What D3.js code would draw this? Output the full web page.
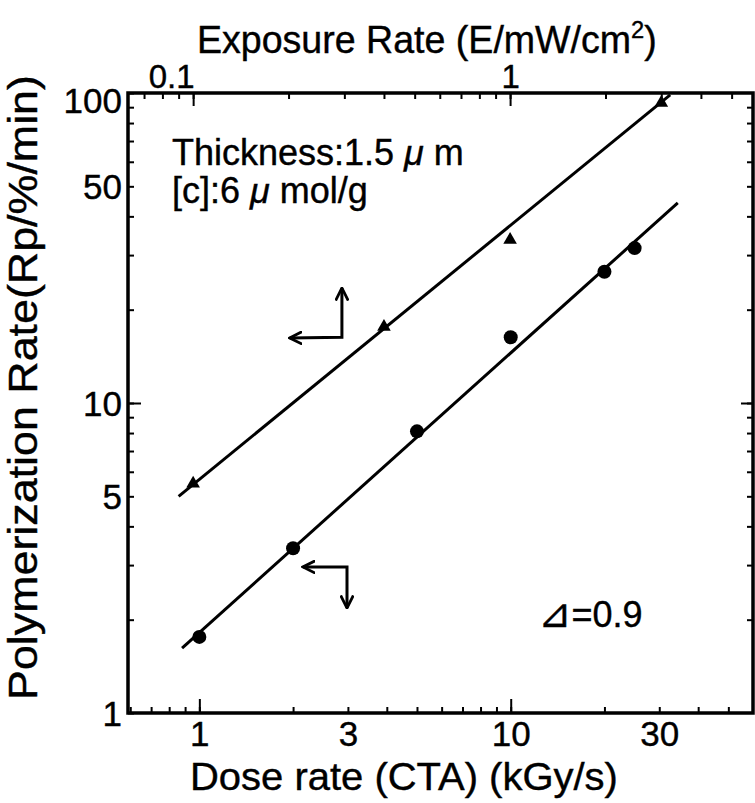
<!DOCTYPE html>
<html>
<head>
<meta charset="utf-8">
<script src="https://cdn.jsdelivr.net/npm/d3@7"></script>
<style>
  body { margin: 0; background: #fff; }
  svg { display: block; font-family: "Liberation Sans", Arial, Helvetica, sans-serif; }
</style>
</head>
<body>
<div id="chart"></div>
<script>
// circles: dose rate (kGy/s) vs polymerization rate (%/min)
const doseRate = [1, 2, 5, 10, 20, 25];
const doseRp = [1.76, 3.4, 8.1, 16.3, 26.5, 31.6];

// triangles: exposure rate (mW/cm2, top axis) vs polymerization rate
const exposureRate = [0.1, 0.4, 1, 3];
const exposureRp = [5.5, 17.6, 33.6, 93];

// fitted lines, start and end
const doseFitX = [0.88, 34.4];
const doseFitY = [1.62, 44.2];
const exposureFitX = [0.09, 3.2];
const exposureFitY = [5.0, 98.6];

const doseTicks = [1, 3, 10, 30];
const exposureTicks = [0.1, 1];
const rpTicks = [1, 5, 10, 50, 100];

const width = 755, height = 803;
const plot = { left: 128, right: 753, top: 93, bottom: 713 };

const svg = d3.select('#chart')
  .append('svg')
  .attr('width', width)
  .attr('height', height);

const x = d3.scaleLog().domain([0.59, 60]).range([plot.left, plot.right]);
const xTop = d3.scaleLog().domain([0.0623, 5.84]).range([plot.left, plot.right]);
const y = d3.scaleLog().domain([1, 100]).range([plot.bottom, plot.top]);

const inside = (s) => (d) => {
  const p = s(d);
  return p > s.range()[0] + 2 && p < s.range()[1] - 2;
};
const insideY = (d) => y(d) < plot.bottom - 2 && y(d) > plot.top + 2;

const fmt = d3.format('~g');

function styleAxis(g) {
  g.select('.domain').remove();
  g.attr('font-family', '"Liberation Sans", Arial, sans-serif')
    .attr('font-size', 35);
  g.selectAll('.tick line').attr('stroke', '#000').attr('stroke-width', 2);
  g.selectAll('.tick text').attr('fill', '#000')
    .attr('stroke', '#000').attr('stroke-width', 0.4);
}

// bottom axis
const bottomMinor = x.ticks().filter(inside(x));
svg.append('g')
  .attr('transform', `translate(0,${plot.bottom})`)
  .call(d3.axisBottom(x).tickValues(bottomMinor).tickSize(-6)
    .tickPadding(8)
    .tickFormat(d => doseTicks.includes(d) ? fmt(d) : ''))
  .call(styleAxis);
svg.append('g')
  .attr('transform', `translate(0,${plot.bottom})`)
  .call(d3.axisBottom(x).tickValues([1, 10]).tickSize(-14).tickFormat(''))
  .call(styleAxis);

// top axis (exposure rate)
const topMinor = xTop.ticks().filter(inside(xTop));
svg.append('g')
  .attr('transform', `translate(0,${plot.top})`)
  .call(d3.axisTop(xTop).tickValues(topMinor).tickSize(-6)
    .tickPadding(5)
    .tickFormat(d => exposureTicks.includes(d) ? fmt(d) : ''))
  .call(styleAxis)
  .call(g => g.selectAll('.tick text').attr('font-size', 33)
    .attr('dx', d => d === 0.1 ? -22 : 0));
svg.append('g')
  .attr('transform', `translate(0,${plot.top})`)
  .call(d3.axisTop(xTop).tickValues([0.1, 1]).tickSize(-13).tickFormat(''))
  .call(styleAxis);

// left axis
const yMinor = y.ticks().filter(insideY);
svg.append('g')
  .attr('transform', `translate(${plot.left},0)`)
  .call(d3.axisLeft(y).tickValues([1].concat(yMinor, [100])).tickSize(-6)
    .tickPadding(6)
    .tickFormat(d => rpTicks.includes(d) ? fmt(d) : ''))
  .call(styleAxis)
  .call(g => g.selectAll('.tick text')
    .attr('dy', d => d === 100 ? '0.55em' : '0.35em'));
svg.append('g')
  .attr('transform', `translate(${plot.left},0)`)
  .call(d3.axisLeft(y).tickValues([10]).tickSize(-13).tickFormat(''))
  .call(styleAxis);

// right axis, ticks only
svg.append('g')
  .attr('transform', `translate(${plot.right},0)`)
  .call(d3.axisLeft(y).tickValues(yMinor).tickSize(6).tickFormat(''))
  .call(styleAxis);
svg.append('g')
  .attr('transform', `translate(${plot.right},0)`)
  .call(d3.axisLeft(y).tickValues([10]).tickSize(12).tickFormat(''))
  .call(styleAxis);

// frame
svg.append('rect')
  .attr('x', plot.left)
  .attr('y', plot.top)
  .attr('width', plot.right - plot.left)
  .attr('height', plot.bottom - plot.top)
  .attr('fill', 'none')
  .attr('stroke', '#000')
  .attr('stroke-width', 3.5);

// fitted lines
svg.append('path')
  .datum(d3.zip(exposureFitX, exposureFitY))
  .attr('d', d3.line().x(d => xTop(d[0])).y(d => y(d[1])))
  .attr('fill', 'none').attr('stroke', '#000').attr('stroke-width', 3);
svg.append('path')
  .datum(d3.zip(doseFitX, doseFitY))
  .attr('d', d3.line().x(d => x(d[0])).y(d => y(d[1])))
  .attr('fill', 'none').attr('stroke', '#000').attr('stroke-width', 3);

// points
svg.append('g')
  .selectAll('circle')
  .data(d3.zip(doseRate, doseRp))
  .join('circle')
  .attr('cx', d => x(d[0]))
  .attr('cy', d => y(d[1]))
  .attr('r', 7)
  .attr('fill', '#000');

svg.append('g')
  .selectAll('path')
  .data(d3.zip(exposureRate, exposureRp))
  .join('path')
  .attr('transform', d => `translate(${xTop(d[0])},${y(d[1])})`)
  .attr('d', d3.symbol(d3.symbolTriangle).size(80))
  .attr('fill', '#000');

// axis arrows (which axes each line belongs to), in dose / Rp units
const defs = svg.append('defs');
defs.append('marker')
  .attr('id', 'head')
  .attr('viewBox', '0 -5 10 10')
  .attr('refX', 9)
  .attr('refY', 0)
  .attr('markerUnits', 'userSpaceOnUse')
  .attr('markerWidth', 14)
  .attr('markerHeight', 14)
  .attr('orient', 'auto-start-reverse')
  .append('path')
  .attr('d', 'M0,-4.5L9,0L0,4.5')
  .attr('fill', 'none')
  .attr('stroke', '#000')
  .attr('stroke-width', 2);

const arrowUpper = [[1.95, 16.2], [2.87, 16.3], [2.87, 23.5]];
const arrowLower = [[2.15, 2.96], [2.98, 2.96], [2.98, 2.18]];
[arrowUpper, arrowLower].forEach(pts => {
  svg.append('path')
    .datum(pts)
    .attr('d', d3.line().x(d => x(d[0])).y(d => y(d[1])))
    .attr('fill', 'none')
    .attr('stroke', '#000')
    .attr('stroke-width', 3)
    .attr('marker-start', 'url(#head)')
    .attr('marker-end', 'url(#head)');
});

// stretch a text group to a target width
function fit(g, tx, ty, w, rot) {
  const bw = g.node().getBBox().width;
  g.attr('transform', `translate(${tx},${ty})${rot ? ' rotate(' + rot + ')' : ''} scale(${w / bw},1)`);
}

// top title
const title = svg.append('g');
const tt = title.append('text').attr('font-size', 38).attr('fill', '#000')
  .attr('stroke', '#000').attr('stroke-width', 0.4);
tt.append('tspan').text('Exposure Rate (E/mW/cm');
tt.append('tspan').text('2').attr('font-size', 24).attr('dy', -15);
tt.append('tspan').text(')').attr('dy', 15);
fit(title, 197, 53, 460);

// bottom title
const xTitle = svg.append('g');
xTitle.append('text').attr('font-size', 39).attr('fill', '#000')
  .attr('stroke', '#000').attr('stroke-width', 0.4)
  .text('Dose rate (CTA) (kGy/s)');
fit(xTitle, 190, 790, 428);

// left title
const yTitle = svg.append('g');
yTitle.append('text').attr('font-size', 40).attr('fill', '#000')
  .attr('stroke', '#000').attr('stroke-width', 0.4)
  .text('Polymerization Rate(Rp/%/min)');
fit(yTitle, 37, 700, 625, -90);

// notes
const note = svg.append('g').attr('font-size', 36).attr('fill', '#000')
  .attr('stroke', '#000').attr('stroke-width', 0.4);
const n1 = note.append('text').attr('x', 172).attr('y', 165);
n1.append('tspan').text('Thickness:1.5');
n1.append('tspan').text(' μ').attr('font-style', 'italic');
n1.append('tspan').text(' m');
const n2 = note.append('text').attr('x', 172).attr('y', 203);
n2.append('tspan').text('[c]:6');
n2.append('tspan').text(' μ').attr('font-style', 'italic');
n2.append('tspan').text(' mol/g');

const n3 = note.append('text').attr('x', 538).attr('y', 627);
n3.append('tspan').text('⊿').attr('font-family', '"DejaVu Sans", "Noto Sans CJK JP", sans-serif').attr('font-size', 40);
n3.append('tspan').text('=0.9');
</script>
</body>
</html>
